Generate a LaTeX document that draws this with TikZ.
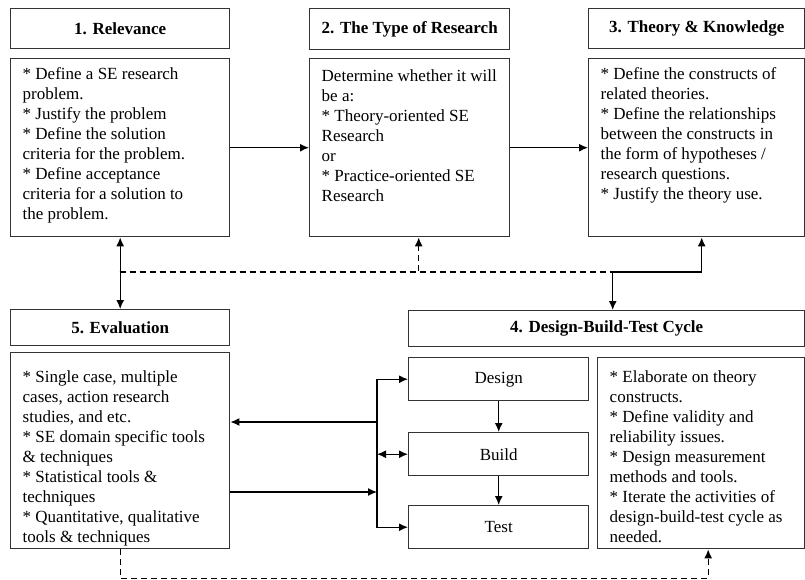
\documentclass[tikz,border=0pt]{standalone}
\usepackage{fontspec}
\setmainfont{Liberation Serif}
\usetikzlibrary{arrows.meta}
\newcommand{\boxtext}[4]{\parbox[c][#2][t]{#1}{\vspace*{#3}\begin{tabular}[t]{@{}l@{}}#4\end{tabular}}}
\begin{document}
\begin{tikzpicture}[x=1pt,y=-1pt,>={Latex[length=9pt,width=8pt]}]
	\tikzset{titlebox/.style={draw=black!80,line width=1.4pt,anchor=north west,inner sep=0pt,font=\bfseries\fontsize{17}{20}\selectfont},
		bodybox/.style={draw=black!80,line width=1.4pt,anchor=north west,inner xsep=12pt,inner ysep=0pt,font=\fontsize{17}{20}\selectfont},
		stagebox/.style={draw=black!80,line width=1.4pt,anchor=north west,inner sep=0pt,minimum width=180pt,minimum height=43pt,font=\fontsize{17}{20}\selectfont},
		link/.style={line width=1.3pt,->},
		dashlink/.style={line width=1.3pt,dash pattern=on 6pt off 4pt}}
	\useasboundingbox (0,0) rectangle (805,579);
	%Top row
	\node[titlebox,minimum width=219pt,minimum height=40pt] (rel) at (10,8) {1. Relevance};
	\node[bodybox] (relbody) at (10,58) {\boxtext{195pt}{178pt}{7pt}{* Define a SE research\\problem.\\{*} Justify the problem\\{*} Define the solution\\criteria for the problem.\\{*} Define acceptance\\criteria for a solution to\\the problem.}};
	\node[titlebox,minimum width=200pt,minimum height=41pt] (type) at (309,8) {2. The Type of Research};
	\node[bodybox] (typebody) at (309,58) {\boxtext{176pt}{178pt}{9pt}{Determine whether it will\\be a:\\{*} Theory-oriented SE\\Research\\or\\{*} Practice-oriented SE\\Research}};
	\node[titlebox,minimum width=216pt,minimum height=40pt] (theo) at (588,8) {3. Theory \& Knowledge};
	\node[bodybox] (theobody) at (588,58) {\boxtext{192pt}{178pt}{7pt}{* Define the constructs of\\related theories.\\{*} Define the relationships\\between the constructs in\\the form of hypotheses /\\research questions.\\{*} Justify the theory use.}};
	%Bottom row
	\node[titlebox,minimum width=219pt,minimum height=36pt] (eval) at (10,309) {5. Evaluation};
	\node[bodybox] (evalbody) at (10,352) {\boxtext{195pt}{196pt}{16pt}{* Single case, multiple\\cases, action research\\studies, and etc.\\{*} SE domain specific tools\\\& techniques\\{*} Statistical tools \&\\techniques\\{*} Quantitative, qualitative\\tools \& techniques}};
	\node[titlebox,minimum width=396pt,minimum height=36pt] (dbt) at (408,310) {4. Design-Build-Test Cycle};
	\node[stagebox] (design) at (408,357) {Design};
	\node[stagebox] (build) at (408,432) {Build};
	\node[stagebox] (test) at (408,505) {Test};
	\node[bodybox] (dbtbody) at (597,357) {\boxtext{183pt}{191pt}{11pt}{* Elaborate on theory\\constructs.\\{*} Define validity and\\reliability issues.\\{*} Design measurement\\methods and tools.\\{*} Iterate the activities of\\design-build-test cycle as\\needed.}};
	%Connectors
	\coordinate (j1) at (119.5,272);
	\coordinate (j3) at ([xshift=5pt]theobody.south |- j1);
	\coordinate (bus) at (377,450);
	\coordinate (e1) at (377,422);
	\coordinate (e2) at (377,492);
	\draw[link] (relbody.east) -- (typebody.west);
	\draw[link] (typebody.east) -- (theobody.west);
	\draw[link,<->] (relbody.south) -- (eval.north);
	\draw[dashlink,->] (j1) -| ([xshift=9pt]typebody.south);
	\draw[dashlink] (j1) -- (j3);
	\draw[link,<->] ([xshift=6pt]dbt.north) |- (j3) -- ([xshift=5pt]theobody.south);
	\draw[link,<->] (design.west) -| (bus) |- (test.west);
	\draw[link,<->] (build.west -| bus) -- (build.west);
	\draw[link] (e1) -- (e1 -| evalbody.east);
	\draw[link] (e2 -| evalbody.east) -- (e2);
	\draw[link] (design.south) -- (build.north);
	\draw[link] (build.south) -- (test.north);
	\draw[dashlink,->] (evalbody.south) -- ++(0,29) -| ([xshift=7pt]dbtbody.south);
\end{tikzpicture}
\end{document}
